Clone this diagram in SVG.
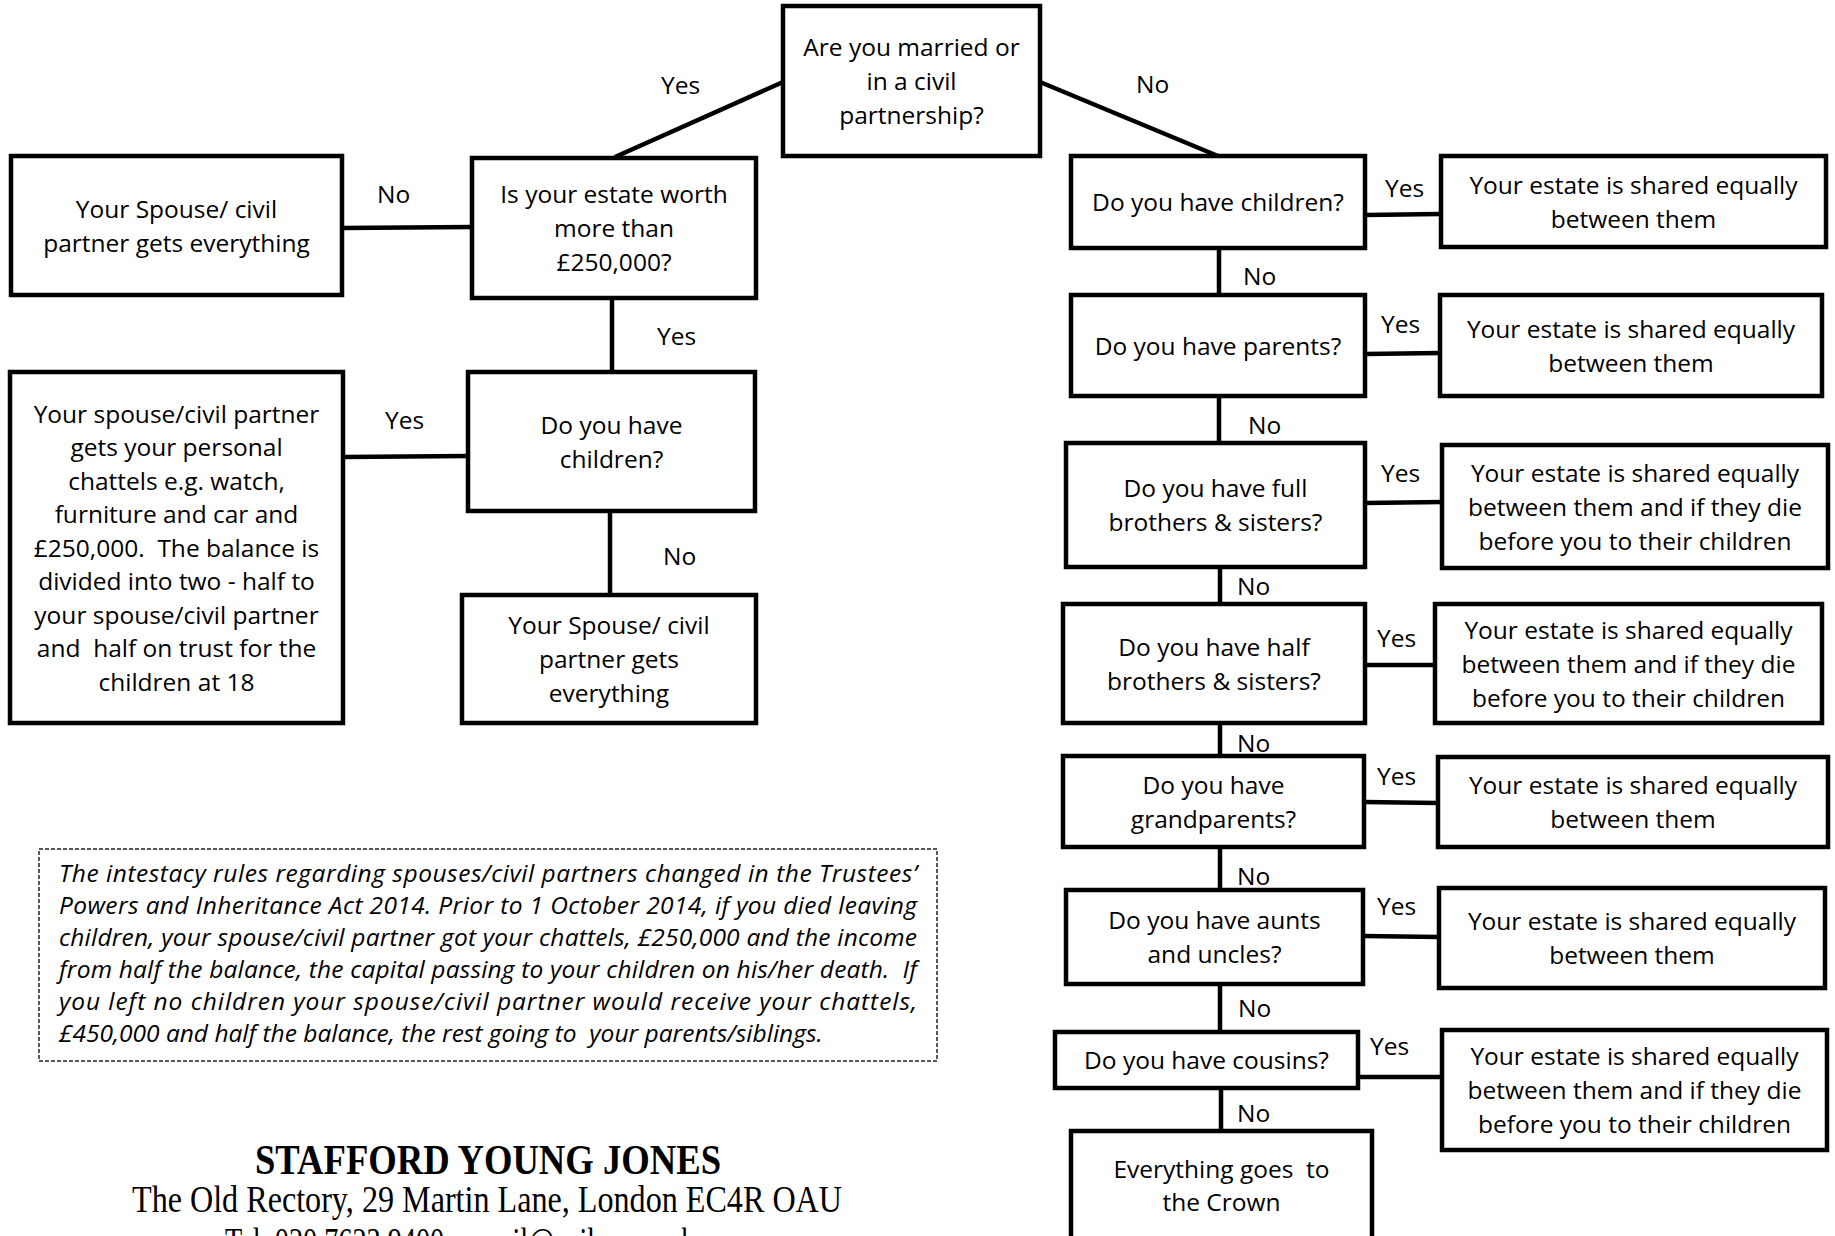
<svg xmlns="http://www.w3.org/2000/svg" width="1835" height="1236" viewBox="0 0 1835 1236">
<style>
.box{fill:#fff;stroke:#000;stroke-width:4.5}
.t{font-family:"Open Sans","Liberation Sans",sans-serif;font-size:24.5px;fill:#000;text-anchor:middle;white-space:pre}
.l{font-family:"Open Sans","Liberation Sans",sans-serif;font-size:24.5px;fill:#000}
.c{stroke:#000;stroke-width:4.5;fill:none}
.note{fill:none;stroke:#222;stroke-width:1.5;stroke-dasharray:4 2}
.nt{font-family:"Open Sans","Liberation Sans",sans-serif;font-style:italic;font-size:24.5px;fill:#000;white-space:pre}
.ft{font-family:"Liberation Serif","Times New Roman",serif;fill:#000;text-anchor:middle;white-space:pre}
</style>
<rect width="1835" height="1236" fill="#fff"/>
<g id="connectors">
<path class="c" d="M615,157 L783,82"/>
<path class="c" d="M1040,82 L1218,156"/>
<path class="c" d="M342,228 L472,227"/>
<path class="c" d="M612,298 L612,372"/>
<path class="c" d="M343,457 L468,456"/>
<path class="c" d="M610,511 L610,595"/>
<path class="c" d="M1365,215 L1441,214"/>
<path class="c" d="M1219,248 L1219,295"/>
<path class="c" d="M1365,354 L1440,353"/>
<path class="c" d="M1219,396 L1219,443"/>
<path class="c" d="M1365,503 L1442,502"/>
<path class="c" d="M1220,567 L1220,604"/>
<path class="c" d="M1365,665 L1435,665"/>
<path class="c" d="M1220,723 L1220,756"/>
<path class="c" d="M1364,802 L1438,803"/>
<path class="c" d="M1220,847 L1220,890"/>
<path class="c" d="M1363,936 L1439,937"/>
<path class="c" d="M1220,984 L1220,1032"/>
<path class="c" d="M1358,1077 L1442,1077"/>
<path class="c" d="M1221,1088 L1221,1131"/>
<g id="labels">
<text class="l" x="661" y="94">Yes</text>
<text class="l" x="1136" y="93">No</text>
<text class="l" x="377" y="203">No</text>
<text class="l" x="657" y="345">Yes</text>
<text class="l" x="385" y="429">Yes</text>
<text class="l" x="663" y="565">No</text>
<text class="l" x="1385" y="197">Yes</text>
<text class="l" x="1381" y="333">Yes</text>
<text class="l" x="1381" y="482">Yes</text>
<text class="l" x="1377" y="647">Yes</text>
<text class="l" x="1377" y="785">Yes</text>
<text class="l" x="1377" y="915">Yes</text>
<text class="l" x="1370" y="1055">Yes</text>
<text class="l" x="1243" y="285">No</text>
<text class="l" x="1248" y="434">No</text>
<text class="l" x="1237" y="595">No</text>
<text class="l" x="1237" y="752">No</text>
<text class="l" x="1237" y="885">No</text>
<text class="l" x="1238" y="1017">No</text>
<text class="l" x="1237" y="1122">No</text>
</g>
</g>
<g id="married">
<rect class="box" x="783" y="6" width="257" height="150"/>
<text class="t" x="911.5" y="56">Are you married or</text>
<text class="t" x="911.5" y="90">in a civil</text>
<text class="t" x="911.5" y="124">partnership?</text>
</g>
<g id="estate">
<rect class="box" x="472" y="158" width="284" height="140"/>
<text class="t" x="614" y="203">Is your estate worth</text>
<text class="t" x="614" y="237">more than</text>
<text class="t" x="614" y="271">£250,000?</text>
</g>
<g id="everything1">
<rect class="box" x="11" y="156" width="331" height="139"/>
<text class="t" x="176.5" y="217.5">Your Spouse/ civil</text>
<text class="t" x="176.5" y="251.5">partner gets everything</text>
</g>
<g id="children-married">
<rect class="box" x="468" y="372" width="287" height="139"/>
<text class="t" x="611.5" y="433.5">Do you have</text>
<text class="t" x="611.5" y="467.5">children?</text>
</g>
<g id="chattels">
<rect class="box" x="10" y="372" width="333" height="351"/>
<text class="t" x="176.5" y="422.5">Your spouse/civil partner</text>
<text class="t" x="176.5" y="456">gets your personal</text>
<text class="t" x="176.5" y="489.5">chattels e.g. watch,</text>
<text class="t" x="176.5" y="523">furniture and car and</text>
<text class="t" x="176.5" y="556.5">£250,000.  The balance is</text>
<text class="t" x="176.5" y="590">divided into two - half to</text>
<text class="t" x="176.5" y="623.5">your spouse/civil partner</text>
<text class="t" x="176.5" y="657">and  half on trust for the</text>
<text class="t" x="176.5" y="690.5">children at 18</text>
</g>
<g id="everything2">
<rect class="box" x="462" y="595" width="294" height="128"/>
<text class="t" x="609" y="634">Your Spouse/ civil</text>
<text class="t" x="609" y="668">partner gets</text>
<text class="t" x="609" y="702">everything</text>
</g>
<g id="q-children">
<rect class="box" x="1071" y="156" width="294" height="92"/>
<text class="t" x="1218" y="211">Do you have children?</text>
</g>
<g id="r-children">
<rect class="box" x="1441" y="156" width="385" height="91"/>
<text class="t" x="1633.5" y="193.5">Your estate is shared equally</text>
<text class="t" x="1633.5" y="227.5">between them</text>
</g>
<g id="q-parents">
<rect class="box" x="1071" y="295" width="294" height="101"/>
<text class="t" x="1218" y="354.5">Do you have parents?</text>
</g>
<g id="r-parents">
<rect class="box" x="1440" y="295" width="382" height="101"/>
<text class="t" x="1631" y="337.5">Your estate is shared equally</text>
<text class="t" x="1631" y="371.5">between them</text>
</g>
<g id="q-full">
<rect class="box" x="1066" y="443" width="299" height="124"/>
<text class="t" x="1215.5" y="497">Do you have full</text>
<text class="t" x="1215.5" y="531">brothers &amp; sisters?</text>
</g>
<g id="r-full">
<rect class="box" x="1442" y="445" width="386" height="123"/>
<text class="t" x="1635" y="481.5">Your estate is shared equally</text>
<text class="t" x="1635" y="515.5">between them and if they die</text>
<text class="t" x="1635" y="549.5">before you to their children</text>
</g>
<g id="q-half">
<rect class="box" x="1063" y="604" width="302" height="119"/>
<text class="t" x="1214" y="655.5">Do you have half</text>
<text class="t" x="1214" y="689.5">brothers &amp; sisters?</text>
</g>
<g id="r-half">
<rect class="box" x="1435" y="604" width="387" height="119"/>
<text class="t" x="1628.5" y="638.5">Your estate is shared equally</text>
<text class="t" x="1628.5" y="672.5">between them and if they die</text>
<text class="t" x="1628.5" y="706.5">before you to their children</text>
</g>
<g id="q-grand">
<rect class="box" x="1063" y="756" width="301" height="91"/>
<text class="t" x="1213.5" y="793.5">Do you have</text>
<text class="t" x="1213.5" y="827.5">grandparents?</text>
</g>
<g id="r-grand">
<rect class="box" x="1438" y="757" width="390" height="90"/>
<text class="t" x="1633" y="794">Your estate is shared equally</text>
<text class="t" x="1633" y="828">between them</text>
</g>
<g id="q-aunts">
<rect class="box" x="1066" y="890" width="297" height="94"/>
<text class="t" x="1214.5" y="929">Do you have aunts</text>
<text class="t" x="1214.5" y="963">and uncles?</text>
</g>
<g id="r-aunts">
<rect class="box" x="1439" y="888" width="386" height="100"/>
<text class="t" x="1632" y="930">Your estate is shared equally</text>
<text class="t" x="1632" y="964">between them</text>
</g>
<g id="q-cousins">
<rect class="box" x="1055" y="1032" width="303" height="56"/>
<text class="t" x="1206.5" y="1069">Do you have cousins?</text>
</g>
<g id="r-cousins">
<rect class="box" x="1442" y="1030" width="385" height="120"/>
<text class="t" x="1634.5" y="1065">Your estate is shared equally</text>
<text class="t" x="1634.5" y="1099">between them and if they die</text>
<text class="t" x="1634.5" y="1133">before you to their children</text>
</g>
<g id="crown">
<rect class="box" x="1071" y="1131" width="301" height="130"/>
<text class="t" x="1221.5" y="1178">Everything goes  to</text>
<text class="t" x="1221.5" y="1211">the Crown</text>
</g>
<g id="note">
<rect class="note" x="39" y="849" width="898" height="212"/>
<text class="nt" x="59" y="882" textLength="858" lengthAdjust="spacing">The intestacy rules regarding spouses/civil partners changed in the Trustees’</text>
<text class="nt" x="59" y="914" textLength="858" lengthAdjust="spacing">Powers and Inheritance Act 2014. Prior to 1 October 2014, if you died leaving</text>
<text class="nt" x="59" y="946" textLength="858" lengthAdjust="spacing">children, your spouse/civil partner got your chattels, £250,000 and the income</text>
<text class="nt" x="59" y="978" textLength="858" lengthAdjust="spacing">from half the balance, the capital passing to your children on his/her death.  If</text>
<text class="nt" x="59" y="1010" textLength="858" lengthAdjust="spacing">you left no children your spouse/civil partner would receive your chattels,</text>
<text class="nt" x="59" y="1042">£450,000 and half the balance, the rest going to  your parents/siblings.</text>
</g>
<g id="footer">
<text class="ft" x="488" y="1174" font-size="42" font-weight="bold" textLength="466" lengthAdjust="spacingAndGlyphs">STAFFORD YOUNG JONES</text>
<text class="ft" x="487" y="1212" font-size="38" textLength="710" lengthAdjust="spacingAndGlyphs">The Old Rectory, 29 Martin Lane, London EC4R OAU</text>
<text class="ft" x="460" y="1254" font-size="38" textLength="470" lengthAdjust="spacingAndGlyphs">Tel. 020 7623 9400   email@syjlaw.co.uk</text>
</g>
</svg>
